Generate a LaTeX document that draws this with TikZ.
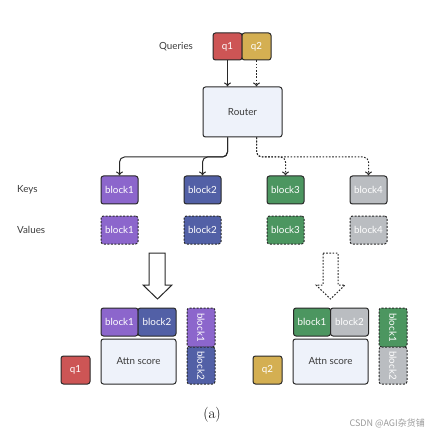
\documentclass[tikz,border=0pt]{standalone}
\usepackage{fontspec}
\setsansfont{Lato}
\newfontfamily\cjkfont{Noto Sans CJK SC}
\usetikzlibrary{arrows.meta}
\definecolor{qred}{RGB}{205,85,85}
\definecolor{qgold}{RGB}{212,175,82}
\definecolor{bpurple}{RGB}{140,102,204}
\definecolor{bblue}{RGB}{82,96,166}
\definecolor{bgreen}{RGB}{76,150,96}
\definecolor{bgray}{RGB}{186,189,193}
\definecolor{rfill}{RGB}{238,242,250}
\definecolor{edge}{RGB}{40,40,40}
\definecolor{lbl}{RGB}{60,60,60}
\tikzset{
  blk/.style={draw=edge, line width=1pt, rounded corners=2.5pt, minimum width=37pt, minimum height=28pt, text=white, font=\sffamily\fontsize{9.8}{11}\selectfont, inner sep=0pt},
  vblk/.style={blk, dashed blk},
  dashed blk/.style={dash pattern=on 2pt off 1.5pt},
  lab/.style={text=lbl, font=\sffamily\fontsize{9.8}{11}\selectfont, anchor=west, inner sep=0pt},
  conn/.style={line width=1pt, draw=edge, -{To[length=4pt,width=7pt]}},
  dconn/.style={conn, dash pattern=on 1.6pt off 1.6pt},
  hollow/.style={draw=edge, line width=1pt, fill=white, line join=miter},
}
\begin{document}
\begin{tikzpicture}[x=1pt,y=-1pt]
\useasboundingbox (0,0) rectangle (426,435);
% labels
\node[lab] (lq) at (159,46.5) {Queries};
\node[lab] (lk) at (17,190) {Keys};
\node[lab] (lv) at (17,230) {Values};
% queries
\node[blk, fill=qred, minimum width=29pt, minimum height=27pt] (q1) at (227.5,46.5) {q1};
\node[blk, fill=qgold, minimum width=29pt, minimum height=27pt] (q2) at (256.5,46.5) {q2};
% router
\node[blk, fill=rfill, text=lbl, minimum width=79pt, minimum height=50pt] (router) at (242.5,112) {Router};
\draw[conn] (q1.south) -- (q1.south |- router.north);
\draw[dconn] (q2.south) -- (q2.south |- router.north);
% keys
\node[blk, fill=bpurple] (k1) at (119.5,190) {block1};
\node[blk, fill=bblue] (k2) at (202.5,190) {block2};
\node[blk, fill=bgreen] (k3) at (285.5,190) {block3};
\node[blk, fill=bgray] (k4) at (368.5,190) {block4};
% values
\node[vblk, fill=bpurple] (v1) at (119.5,230) {block1};
\node[vblk, fill=bblue] (v2) at (202.5,230) {block2};
\node[vblk, fill=bgreen] (v3) at (285.5,230) {block3};
\node[vblk, fill=bgray] (v4) at (368.5,230) {block4};
% router connectors
\coordinate (ra) at (q1.south |- router.south);
\coordinate (rb) at (q2.south |- router.south);
\draw[conn, rounded corners=5pt] (ra) -- (ra |- 0,157) -| (k1.north);
\draw[conn, rounded corners=5pt] (ra) -- (ra |- 0,157) -| (k2.north);
\draw[dconn, rounded corners=5pt] (rb) -- (rb |- 0,157) -| (k3.north);
\draw[dconn, rounded corners=5pt] (rb) -- (rb |- 0,157) -| (k4.north);
% hollow arrows
\draw[hollow] (149,253) -- (165,253) -- (165,285) -- (172,285) -- (157.5,299) -- (143,285) -- (149,285) -- cycle;
\draw[hollow, dash pattern=on 1.6pt off 1.6pt] (323,253) -- (338,253) -- (338,285) -- (345,285) -- (330.5,299) -- (316,285) -- (323,285) -- cycle;
% bottom left group
\node[blk, fill=bpurple] (b1) at (119.5,322) {block1};
\node[blk, fill=bblue, minimum width=38pt] (b2) at (157,322) {block2};
\node[blk, fill=rfill, text=lbl, minimum width=75pt, minimum height=45pt] (attn1) at (138.5,361.5) {Attn score};
\node[vblk, fill=bpurple, minimum width=28pt, minimum height=39pt] (vb1) at (201,327.5) {\rotatebox{-90}{block1}};
\node[vblk, fill=bblue, minimum width=28pt, minimum height=37pt] (vb2) at (201,365.5) {\rotatebox{-90}{block2}};
\node[blk, fill=qred, minimum width=29pt, minimum height=28pt] (qb1) at (75.5,370) {q1};
% bottom right group
\node[blk, fill=bgreen] (c1) at (312,322) {block1};
\node[blk, fill=bgray, minimum width=38pt] (c2) at (349.5,322) {block2};
\node[blk, fill=rfill, text=lbl, minimum width=75pt, minimum height=45pt] (attn2) at (330.5,361.5) {Attn score};
\node[vblk, fill=bgreen, minimum width=28pt, minimum height=39pt] (vc1) at (393,327.5) {\rotatebox{-90}{block1}};
\node[vblk, fill=bgray, minimum width=28pt, minimum height=37pt] (vc2) at (393,365.5) {\rotatebox{-90}{block2}};
\node[blk, fill=qgold, minimum width=29pt, minimum height=28pt] (qb2) at (267.5,370) {q2};
% caption
\node[font=\fontsize{15}{17}\selectfont, inner sep=0pt] (cap) at (212,415) {(a)};
\node[font=\cjkfont\fontsize{9}{10}\selectfont, text=black!40, anchor=east, inner sep=0pt] (wm) at (425,423) {CSDN @AGI杂货铺};
\end{tikzpicture}
\end{document}
